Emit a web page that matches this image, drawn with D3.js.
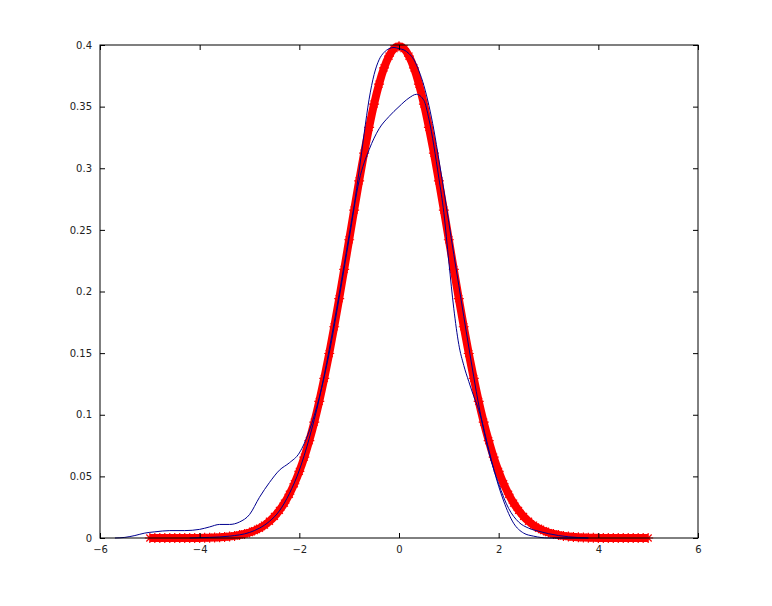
<!DOCTYPE html>
<html>
<head>
<meta charset="utf-8">
<script src="https://cdn.jsdelivr.net/npm/d3@7"></script>
<style>
  body { margin: 0; background: #fff; }
  svg text { font-family: "DejaVu Sans", sans-serif; font-size: 10px; fill: #222; }
</style>
</head>
<body>
<div id="chart"></div>
<script>
// red starred curve (normal pdf values)
const redX = [-5,-4.9,-4.8,-4.7,-4.6,-4.5,-4.4,-4.3,-4.2,-4.1,-4,-3.9,-3.8,-3.7,-3.6,-3.5,-3.4,-3.3,-3.2,-3.1,
  -3,-2.9,-2.8,-2.7,-2.6,-2.5,-2.4,-2.3,-2.2,-2.1,-2,-1.9,-1.8,-1.7,-1.6,-1.5,-1.4,-1.3,-1.2,-1.1,
  -1,-0.9,-0.8,-0.7,-0.6,-0.5,-0.4,-0.3,-0.2,-0.1,0,0.1,0.2,0.3,0.4,0.5,0.6,0.7,0.8,0.9,
  1,1.1,1.2,1.3,1.4,1.5,1.6,1.7,1.8,1.9,2,2.1,2.2,2.3,2.4,2.5,2.6,2.7,2.8,2.9,
  3,3.1,3.2,3.3,3.4,3.5,3.6,3.7,3.8,3.9,4,4.1,4.2,4.3,4.4,4.5,4.6,4.7,4.8,4.9,5]
const redY = [0,0,0,0,0,0,0,0,0.0001,0.0001,0.0001,0.0002,0.0003,0.0004,0.0006,0.0009,0.0012,0.0017,0.0024,0.0033,
  0.0044,0.006,0.0079,0.0104,0.0136,0.0175,0.0224,0.0283,0.0355,0.044,0.054,0.0656,0.079,0.094,0.1109,0.1295,0.1497,0.1714,0.1942,0.2179,
  0.242,0.2661,0.2897,0.3123,0.3332,0.3521,0.3683,0.3814,0.391,0.397,0.3989,0.397,0.391,0.3814,0.3683,0.3521,0.3332,0.3123,0.2897,0.2661,
  0.242,0.2179,0.1942,0.1714,0.1497,0.1295,0.1109,0.094,0.079,0.0656,0.054,0.044,0.0355,0.0283,0.0224,0.0175,0.0136,0.0104,0.0079,0.006,
  0.0044,0.0033,0.0024,0.0017,0.0012,0.0009,0.0006,0.0004,0.0003,0.0002,0.0001,0.0001,0.0001,0,0,0,0,0,0,0,0]

// lumpy blue estimate
const lumpX = [-5.7,-5.5,-5.3,-5.1,-4.9,-4.6,-4.3,-4,-3.8,-3.6,-3.4,-3.2,-3,-2.8,-2.6,-2.4,-2.2,-2,-1.8,-1.6,
  -1.4,-1.2,-1,-0.8,-0.6,-0.4,-0.2,0,0.2,0.35,0.5,0.6,0.8,0.9,1,1.1,1.2,1.3,1.4,1.5,1.6,
  1.8,1.9,2.1,2.3,2.5,2.7,3,3.8]
const lumpY = [0,0.0005,0.002,0.004,0.005,0.006,0.006,0.007,0.009,0.011,0.011,0.013,0.019,0.033,0.045,0.055,0.061,0.069,0.087,0.114,
  0.15,0.195,0.243,0.29,0.315,0.332,0.342,0.35,0.357,0.36,0.355,0.34,0.292,0.264,0.224,0.186,0.157,0.14,0.127,0.115,0.104,
  0.072,0.056,0.03,0.012,0.004,0.0015,0,0]

// smooth blue estimate
const smoothX = [-4.2,-3.8,-3.4,-3,-2.8,-2.6,-2.4,-2.2,-2,-1.8,-1.6,-1.4,-1.2,-1,-0.9,-0.8,-0.7,-0.6,-0.5,-0.4,-0.3,-0.2,-0.1,0,
  0.1,0.2,0.3,0.4,0.5,0.6,0.7,0.8,0.9,1,1.1,1.2,1.4,1.6,1.8,2,2.2,2.4,2.6,2.8,3,3.2,3.4,3.8]
const smoothY = [0,0.0005,0.0015,0.0045,0.008,0.0135,0.022,0.036,0.055,0.081,0.113,0.153,0.198,0.246,0.27,0.298,0.328,0.356,0.376,0.388,0.394,0.397,0.398,0.397,
  0.396,0.393,0.388,0.379,0.367,0.351,0.331,0.307,0.282,0.256,0.23,0.205,0.155,0.108,0.07,0.044,0.024,0.013,0.008,0.0055,0.0035,0.002,0.001,0]

const xTicks = [-6,-4,-2,0,2,4,6]
const yTicks = [0,0.05,0.1,0.15,0.2,0.25,0.3,0.35,0.4]

const w = 772, h = 606
const pl = 100, pr = 698, pt = 45, pb = 538

const x = d3.scaleLinear().domain([-6, 6]).range([pl, pr])
const y = d3.scaleLinear().domain([0, 0.4]).range([pb, pt])

const svg = d3.select('#chart').append('svg')
    .attr('width', w)
    .attr('height', h)

svg.append('rect').attr('width', w).attr('height', h).attr('fill', '#fff')

const line = d3.line()
    .x(d => x(d[0]))
    .y(d => y(d[1]))
    .curve(d3.curveMonotoneX)

const plot = svg.append('g')

// red thick band + star markers
const redPts = redX.map((v, i) => [v, redY[i]])
plot.append('path')
    .attr('d', line(redPts))
    .attr('fill', 'none')
    .attr('stroke', '#ff0000')
    .attr('stroke-width', 8)

const s = 5
const star = `M${-s},0L${s},0M0,${-s}L0,${s}M${-s*0.7},${-s*0.7}L${s*0.7},${s*0.7}M${-s*0.7},${s*0.7}L${s*0.7},${-s*0.7}`
plot.selectAll('.star')
    .data(redPts)
    .enter()
    .append('path')
    .attr('class', 'star')
    .attr('transform', d => 'translate(' + x(d[0]) + ',' + y(d[1]) + ')')
    .attr('d', star)
    .attr('stroke', '#ff0000')
    .attr('stroke-width', 1.2)
    .attr('fill', 'none')

// blue curves
plot.append('path')
    .attr('d', line(smoothX.map((v, i) => [v, smoothY[i]])))
    .attr('fill', 'none')
    .attr('stroke', '#00008f')
    .attr('stroke-width', 1)

plot.append('path')
    .attr('d', line(lumpX.map((v, i) => [v, lumpY[i]])))
    .attr('fill', 'none')
    .attr('stroke', '#00008f')
    .attr('stroke-width', 1)

// box
svg.append('rect')
    .attr('x', pl).attr('y', pt)
    .attr('width', pr - pl).attr('height', pb - pt)
    .attr('fill', 'none').attr('stroke', '#000').attr('stroke-width', 1)

// axes with inward ticks
const xAxis = d3.axisBottom(x).tickValues(xTicks).tickSize(-5).tickPadding(8).tickFormat(d3.format('d'))
svg.append('g')
    .attr('transform', 'translate(0,' + pb + ')')
    .call(xAxis)
    .call(g => g.select('.domain').remove())

svg.append('g')
    .attr('transform', 'translate(0,' + pt + ')')
    .call(d3.axisTop(x).tickValues(xTicks).tickSize(-5).tickFormat(''))
    .call(g => g.select('.domain').remove())

const yAxis = d3.axisLeft(y).tickValues(yTicks).tickSize(-5).tickPadding(8).tickFormat(d => d === 0 ? '0' : String(+d.toFixed(2)))
svg.append('g')
    .attr('transform', 'translate(' + pl + ',0)')
    .call(yAxis)
    .call(g => g.select('.domain').remove())

svg.append('g')
    .attr('transform', 'translate(' + pr + ',0)')
    .call(d3.axisRight(y).tickValues(yTicks).tickSize(-5).tickFormat(''))
    .call(g => g.select('.domain').remove())

svg.selectAll('.tick text').attr('fill', '#222').style('font-size', '10px')
</script>
</body>
</html>
